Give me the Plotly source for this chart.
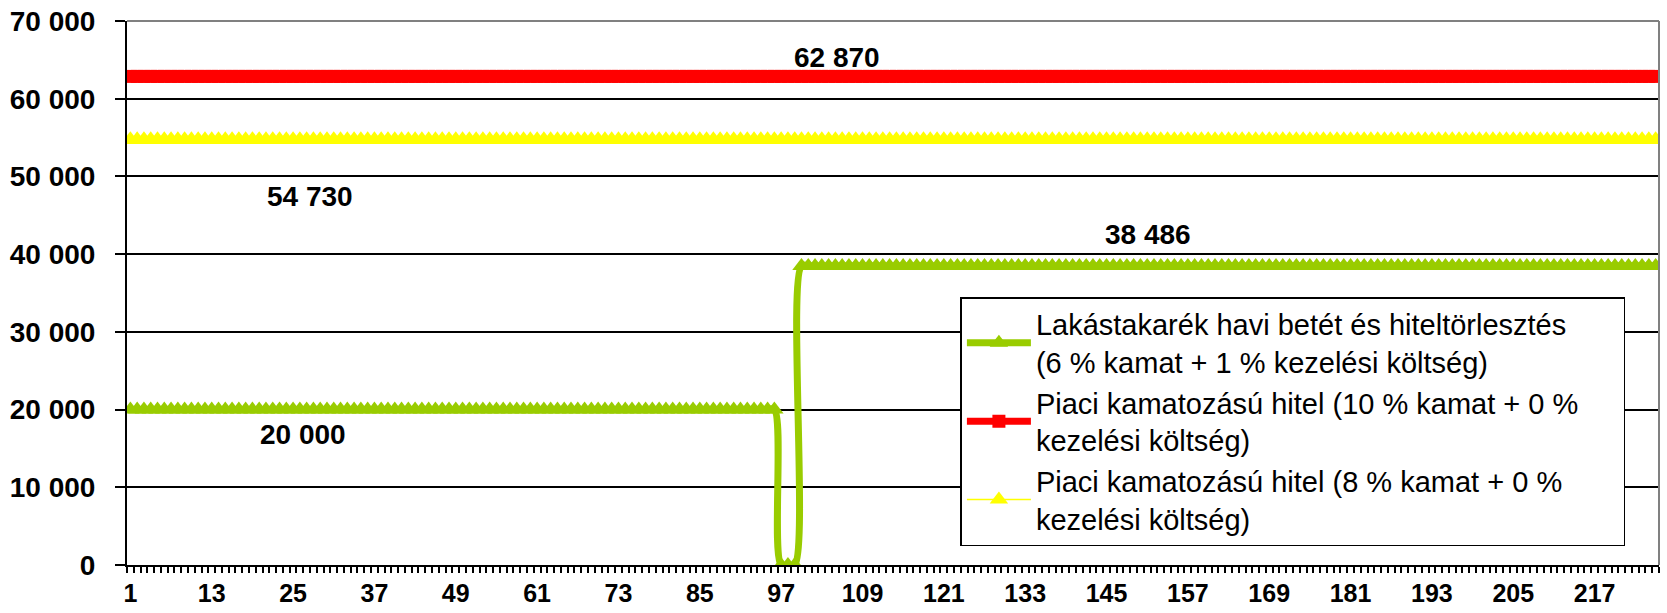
import plotly.graph_objects as go

# ---- data ----
months = list(range(1, 227))                      # month index on the category axis
lakas_vals = [20000] * 96 + [0] * 3 + [38486] * 127   # Lakástakarék havi betét és hiteltörlesztés
piaci10_vals = [62870] * 226                       # Piaci hitel 10 %
piaci8_vals = [54730] * 226                        # Piaci hitel 8 %

PAD = "\u00a0" * 5
series_names = [
    "Lakástakarék havi betét és hiteltörlesztés" + PAD + "<br>(6 % kamat + 1 % kezelési költség)",
    "Piaci kamatozású hitel (10 % kamat + 0 %" + PAD + "<br>kezelési költség)",
    "Piaci kamatozású hitel (8 % kamat + 0 %<br>kezelési költség)",
]

y_tick_vals = [0, 10000, 20000, 30000, 40000, 50000, 60000, 70000]
y_tick_text = ["0", "10 000", "20 000", "30 000", "40 000", "50 000", "60 000", "70 000"]
x_tick_vals = list(range(1, 218, 12))
x_tick_text = [str(v) for v in x_tick_vals]

# data labels: (month index, value, text)
label_months = [105.3, 27.5, 151.1, 26.5]
label_values = [62870, 54730, 38486, 20000]
label_texts = ["62 870", "54 730", "38 486", "20 000"]
label_shifts = [19, -57, 31, -25]

FONT = "Arial, 'Liberation Sans', sans-serif"
GREEN = "#99CC00"
RED = "#FF0000"
YELLOW = "#FFFF00"

fig = go.Figure()

fig.add_trace(go.Scatter(
    x=months, y=lakas_vals, name=series_names[0], mode="lines+markers",
    line=dict(color=GREEN, width=7, shape="spline", smoothing=1),
    marker=dict(symbol="triangle-up", size=16, color=GREEN),
))
fig.add_trace(go.Scatter(
    x=months, y=piaci10_vals, name=series_names[1], mode="lines+markers",
    line=dict(color=RED, width=7),
    marker=dict(symbol="square", size=13, color=RED),
))
fig.add_trace(go.Scatter(
    x=months, y=piaci8_vals, name=series_names[2], mode="lines+markers",
    line=dict(color=YELLOW, width=1.5),
    marker=dict(symbol="triangle-up", size=17, color=YELLOW),
))

for m, v, t, s in zip(label_months, label_values, label_texts, label_shifts):
    fig.add_annotation(x=m, y=v, xref="x", yref="y", text=t, showarrow=False,
                       yshift=s, font=dict(family=FONT, size=28, color="black", weight="bold"))

fig.update_layout(
    width=1667, height=613,
    margin=dict(l=127, r=8, t=21, b=48, autoexpand=False),
    paper_bgcolor="white", plot_bgcolor="white",
    font=dict(family=FONT, color="black"),
    showlegend=True,
    legend=dict(
        x=0.544, y=0.4926, xanchor="left", yanchor="top",
        bgcolor="white", bordercolor="black", borderwidth=1.5,
        font=dict(family=FONT, size=29, color="black"),
        tracegroupgap=0, itemwidth=64,
    ),
    xaxis=dict(
        range=[0.5, 226.5], tickmode="array", tickvals=x_tick_vals, ticktext=x_tick_text,
        ticks="", showgrid=False, zeroline=False, automargin=False,
        showline=True, linecolor="black", linewidth=2,
        tickfont=dict(family=FONT, size=25, color="black", weight="bold"),
        ticklabelstandoff=5,
        minor=dict(ticks="outside", ticklen=6, tickwidth=1.5, tickcolor="black",
                   tick0=0.5, dtick=1, showgrid=False),
    ),
    yaxis=dict(
        range=[0, 70000], tickmode="array", tickvals=y_tick_vals, ticktext=y_tick_text,
        ticks="outside", ticklen=10, tickwidth=1.5, tickcolor="black",
        showgrid=True, gridcolor="black", gridwidth=1.5, zeroline=False, automargin=False,
        showline=True, linecolor="black", linewidth=2,
        tickfont=dict(family=FONT, size=28, color="black", weight="bold"),
        ticklabelstandoff=14,
    ),
    shapes=[
        dict(type="line", xref="paper", yref="paper", x0=0, x1=1, y0=1, y1=1,
             line=dict(color="#808080", width=2), layer="above"),
        dict(type="line", xref="paper", yref="paper", x0=1, x1=1, y0=0, y1=1,
             line=dict(color="#808080", width=2), layer="above"),
    ],
)

fig.write_html(
    "out.html",
    config={"displayModeBar": False},
    post_script="document.documentElement.style.margin='0';document.body.style.margin='0';"
                "document.body.style.padding='0';document.body.style.overflow='hidden';",
)
